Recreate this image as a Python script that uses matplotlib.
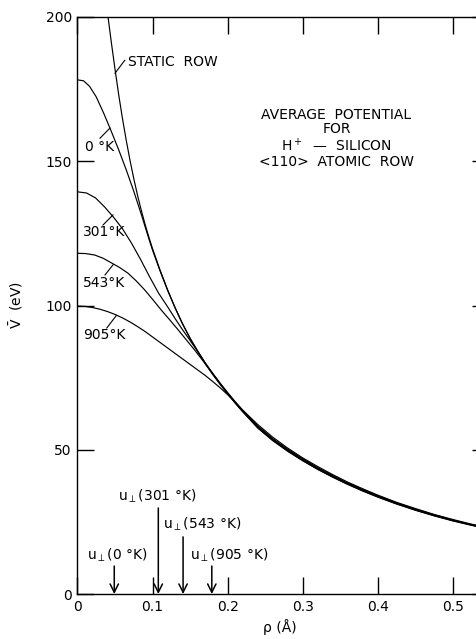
import matplotlib.pyplot as plt

# --- static row potential, V(rho) in eV, rho in Angstrom ---
static_rho = [0.0407, 0.045, 0.050, 0.055, 0.060, 0.065, 0.070, 0.075, 0.080,
              0.085, 0.090, 0.095, 0.100, 0.110, 0.120, 0.130, 0.140, 0.150,
              0.160, 0.170, 0.180, 0.190, 0.200, 0.210, 0.220]
static_V = [200.0, 191.4, 181.9, 172.9, 164.7, 157.2, 150.3, 144.0, 138.2,
            133.0, 128.2, 123.8, 119.7, 112.3, 105.5, 99.3, 93.7, 88.7,
            84.2, 80.0, 76.2, 72.7, 69.4, 66.2, 63.2]

# --- thermally averaged potentials ---
k0_rho = [0.0, 0.008, 0.016, 0.025, 0.035, 0.045, 0.055, 0.065, 0.075, 0.085,
          0.090, 0.095, 0.100, 0.110, 0.120, 0.130, 0.140, 0.150, 0.160, 0.170,
          0.180, 0.190, 0.200, 0.210, 0.220]
k0_V = [178.2, 177.9, 176.0, 172.3, 166.6, 160.4, 153.9, 147.0, 139.6, 131.6,
        127.4, 123.2, 119.2, 112.0, 105.3, 99.2, 93.6, 88.6, 84.3, 80.1,
        76.3, 72.8, 69.5, 66.3, 63.3]

k301_rho = [0.0, 0.012, 0.024, 0.036, 0.048, 0.060, 0.072, 0.084, 0.096, 0.108,
            0.120, 0.130, 0.140, 0.150, 0.160, 0.170, 0.180, 0.190, 0.200,
            0.210, 0.220]
k301_V = [139.4, 139.0, 137.3, 134.2, 130.6, 126.6, 121.6, 116.0, 110.0, 104.3,
          99.6, 95.5, 91.6, 87.9, 84.1, 80.2, 76.6, 73.1, 69.8,
          66.6, 63.6]

k543_rho = [0.0, 0.011, 0.0229, 0.034, 0.045, 0.056, 0.0673, 0.078, 0.0896,
            0.1005, 0.1117, 0.123, 0.134, 0.145, 0.156, 0.167, 0.175, 0.180,
            0.190, 0.200, 0.210, 0.220]
k543_V = [118.1, 118.0, 117.5, 116.4, 114.8, 113.2, 111.2, 108.6, 105.4,
          102.0, 98.4, 95.0, 91.6, 88.1, 84.6, 80.9, 78.1, 76.4,
          73.0, 69.8, 66.7, 63.7]

k905_rho = [0.0, 0.01, 0.02, 0.03, 0.04, 0.05, 0.06, 0.07, 0.08, 0.09, 0.10,
            0.11, 0.12, 0.13, 0.14, 0.15, 0.16, 0.17, 0.18, 0.19, 0.20, 0.21,
            0.22]
k905_V = [99.8, 99.7, 99.3, 98.7, 97.9, 96.9, 95.7, 94.3, 92.7, 91.0, 89.1,
          87.2, 85.3, 83.4, 81.5, 79.6, 77.7, 75.8, 73.7, 71.5, 69.1, 66.5,
          63.8]

# outer region where all curves run together
tail_rho = [0.24, 0.26, 0.28, 0.30, 0.32, 0.34, 0.36, 0.38, 0.40, 0.425,
            0.45, 0.475, 0.50, 0.525, 0.55]
static_tail = [57.6, 53.2, 49.5, 46.2, 43.2, 40.5, 38.0, 35.7, 33.6, 31.2,
               29.05, 27.1, 25.35, 23.8, 22.4]
k0_tail = [57.7, 53.3, 49.6, 46.3, 43.3, 40.6, 38.1, 35.8, 33.7, 31.3,
           29.15, 27.2, 25.45, 23.9, 22.5]
k301_tail = [58.0, 53.6, 49.9, 46.6, 43.6, 40.8, 38.3, 36.0, 33.9, 31.5,
             29.25, 27.3, 25.55, 24.0, 22.6]
k543_tail = [58.3, 53.9, 50.2, 46.9, 43.8, 41.1, 38.5, 36.2, 34.1, 31.6,
             29.45, 27.5, 25.65, 24.1, 22.7]
k905_tail = [58.8, 54.4, 50.6, 47.2, 44.2, 41.4, 38.8, 36.5, 34.3, 31.8,
             29.65, 27.6, 25.85, 24.2, 22.8]

# rms vibration amplitudes marked on the rho axis
u_temps = ['0 °K', '301 °K', '543 °K', '905 °K']
u_rho = [0.049, 0.1077, 0.1407, 0.179]

curves = [
    (static_rho + tail_rho, static_V + static_tail),
    (k0_rho + tail_rho, k0_V + k0_tail),
    (k301_rho + tail_rho, k301_V + k301_tail),
    (k543_rho + tail_rho, k543_V + k543_tail),
    (k905_rho + tail_rho, k905_V + k905_tail),
]

fig = plt.figure(figsize=(4.76, 6.39), dpi=100)
ax = fig.add_axes([0.1628, 0.0704, 0.8639, 0.903])

for rho, v in curves:
    ax.plot(rho, v, color='black', lw=0.85)

ax.set_xlim(0, 0.548)
ax.set_ylim(0, 200)
ax.set_xticks([0, 0.1, 0.2, 0.3, 0.4, 0.5])
ax.set_xticklabels(['0', '0.1', '0.2', '0.3', '0.4', '0.5'])
ax.set_yticks([0, 50, 100, 150, 200])
ax.set_yticklabels(['0', '50', '100', '150', '200'])
ax.tick_params(direction='in', length=12, width=1.0, top=True, right=True,
               labelsize=10, pad=4)
for s in ax.spines.values():
    s.set_linewidth(1.0)

ax.set_ylabel(r'$\bar{\mathrm{V}}$  (eV)', fontsize=10)
ax.yaxis.set_label_coords(-0.128, 0.5)
ax.set_xlabel('ρ (Å)', fontsize=10)
ax.xaxis.set_label_coords(0.4925, -0.043)

# curve labels with short leader lines
ax.text(0.0673, 184.4, 'STATIC  ROW', ha='left', va='center', fontsize=10)
ax.plot([0.050, 0.063], [180.5, 185.0], color='black', lw=0.8)

ax.text(0.010, 155.0, '0 °K', ha='left', va='center', fontsize=10)
ax.plot([0.030, 0.0433], [158.0, 161.5], color='black', lw=0.8)

ax.text(0.007, 125.5, '301°K', ha='left', va='center', fontsize=10)
ax.plot([0.034, 0.0473], [127.9, 131.4], color='black', lw=0.8)

ax.text(0.007, 107.8, '543°K', ha='left', va='center', fontsize=10)
ax.plot([0.0367, 0.0477], [110.6, 114.2], color='black', lw=0.8)

ax.text(0.007, 89.8, '905°K', ha='left', va='center', fontsize=10)
ax.plot([0.039, 0.052], [92.2, 96.6], color='black', lw=0.8)

ax.text(0.345, 158.0, 'AVERAGE  POTENTIAL\nFOR\nH$^+$  —  SILICON\n<110>  ATOMIC  ROW',
        ha='center', va='center', fontsize=10, linespacing=1.05)

# u_perp markers
label_pos = [(0.0527, 13.5, 'center'), (0.106, 34.0, 'center'),
             (0.114, 24.3, 'left'), (0.150, 13.5, 'left')]
arrow_top = [9.7, 29.8, 19.8, 9.7]
for t, x, (lx, ly, ha), top in zip(u_temps, u_rho, label_pos, arrow_top):
    ax.text(lx, ly, 'u$_\\perp$(' + t + ')', ha=ha, va='center', fontsize=10)
    ax.annotate('', xy=(x, 0), xytext=(x, top),
                arrowprops=dict(arrowstyle='->,head_length=0.6,head_width=0.3',
                                lw=1.1, color='black', shrinkA=0, shrinkB=0))

fig.savefig('out.png', dpi=100)
